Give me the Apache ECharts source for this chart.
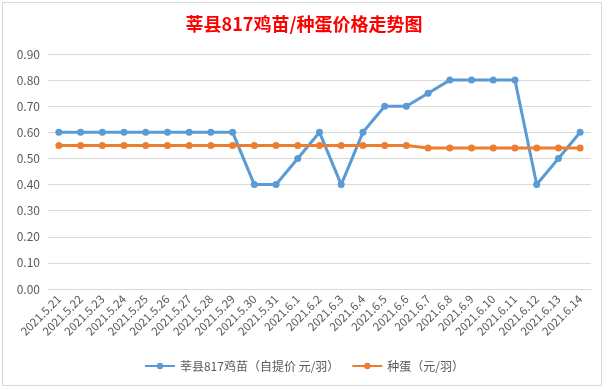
<!DOCTYPE html>
<html><head><meta charset="utf-8">
<script src="https://cdn.jsdelivr.net/npm/echarts@6/dist/echarts.min.js"></script>
<style>
html,body{margin:0;padding:0;background:#fff;}
#frame{position:absolute;left:2px;top:2px;width:600px;height:384px;border:1px solid #d9d9d9;box-sizing:border-box;}
#c{position:absolute;left:0;top:0;width:608px;height:390px;}
</style></head>
<body>
<div id="frame"></div>
<div id="c"></div>
<script>
const categories = ['2021.5.21','2021.5.22','2021.5.23','2021.5.24','2021.5.25','2021.5.26','2021.5.27','2021.5.28','2021.5.29','2021.5.30','2021.5.31','2021.6.1','2021.6.2','2021.6.3','2021.6.4','2021.6.5','2021.6.6','2021.6.7','2021.6.8','2021.6.9','2021.6.10','2021.6.11','2021.6.12','2021.6.13','2021.6.14'];
const chickPrice = [0.6,0.6,0.6,0.6,0.6,0.6,0.6,0.6,0.6,0.4,0.4,0.5,0.6,0.4,0.6,0.7,0.7,0.75,0.8,0.8,0.8,0.8,0.4,0.5,0.6];
const eggPrice = [0.55,0.55,0.55,0.55,0.55,0.55,0.55,0.55,0.55,0.55,0.55,0.55,0.55,0.55,0.55,0.55,0.55,0.54,0.54,0.54,0.54,0.54,0.54,0.54,0.54];
const seriesNames = ['莘县817鸡苗（自提价 元/羽）','种蛋（元/羽）'];
const titleText = '莘县817鸡苗/种蛋价格走势图';

const chart = echarts.init(document.getElementById('c'), null, {renderer:'canvas'});
const font = '"Microsoft YaHei","Noto Sans CJK SC","Open Sans",sans-serif';
chart.setOption({
  animation:false,
  backgroundColor:'transparent',
  title:{text:titleText,left:'center',top:10,textStyle:{color:'#ff0000',fontSize:18,fontWeight:'bold',fontFamily:'"Noto Sans CJK SC",sans-serif'}},
  legend:{bottom:13,left:'center',itemWidth:30,itemHeight:8,itemGap:12,
    textStyle:{color:'#595959',fontSize:12,fontFamily:font},
    data:seriesNames},
  grid:{left:48,right:17,top:54,bottom:101},
  xAxis:{type:'category',data:categories,boundaryGap:true,
    axisLine:{lineStyle:{color:'#d9d9d9'}},axisTick:{show:false},
    axisLabel:{rotate:45,color:'#595959',fontSize:11.5,fontFamily:font,margin:8,interval:0}},
  yAxis:{type:'value',min:0,max:0.9,interval:0.1,
    axisLine:{show:false},axisTick:{show:false},
    splitLine:{lineStyle:{color:'#d9d9d9'}},
    axisLabel:{color:'#595959',fontSize:12,fontFamily:font,margin:8,formatter:v=>v.toFixed(2)}},
  series:[
    {name:seriesNames[0],type:'line',data:chickPrice,color:'#5B9BD5',symbol:'circle',symbolSize:7,
      lineStyle:{width:3,color:'#5B9BD5'},itemStyle:{color:'#5B9BD5'}},
    {name:seriesNames[1],type:'line',data:eggPrice,color:'#ED7D31',symbol:'circle',symbolSize:7,
      lineStyle:{width:3,color:'#ED7D31'},itemStyle:{color:'#ED7D31'}}
  ]
});
</script>
</body></html>
